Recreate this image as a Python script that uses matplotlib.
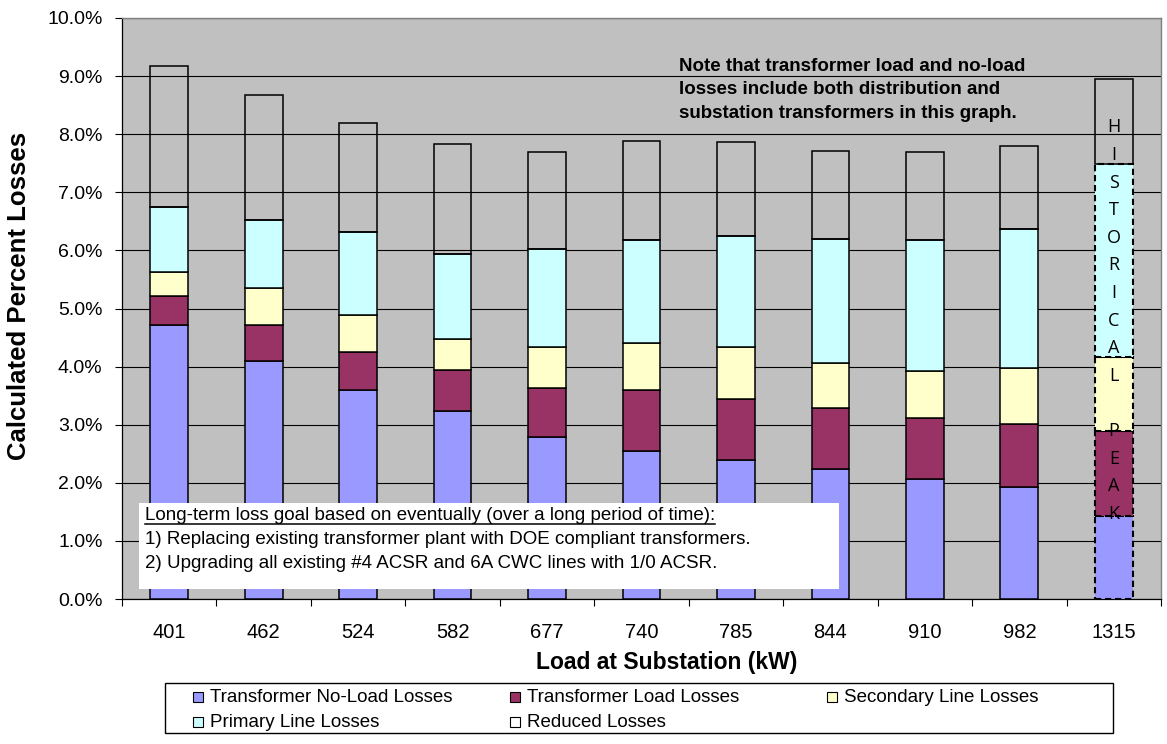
import matplotlib
matplotlib.use("Agg")
import matplotlib.pyplot as plt
import numpy as np
from matplotlib.patches import Rectangle
from matplotlib.lines import Line2D
from matplotlib.transforms import blended_transform_factory

# ---- data (percent losses by substation load) ----
loads_kw = ["401", "462", "524", "582", "677", "740", "785", "844", "910", "982", "1315"]
no_load_losses = [4.71, 4.09, 3.60, 3.24, 2.79, 2.55, 2.40, 2.24, 2.07, 1.92, 1.43]
load_losses = [0.51, 0.63, 0.65, 0.71, 0.84, 1.04, 1.05, 1.05, 1.04, 1.10, 1.47]
secondary_losses = [0.41, 0.63, 0.63, 0.52, 0.71, 0.82, 0.88, 0.77, 0.81, 0.95, 1.27]
primary_losses = [1.12, 1.18, 1.44, 1.47, 1.69, 1.77, 1.92, 2.13, 2.26, 2.40, 3.32]
reduced_losses = [2.42, 2.14, 1.88, 1.89, 1.66, 1.71, 1.62, 1.52, 1.52, 1.42, 1.46]

series_names = ["Transformer No-Load Losses", "Transformer Load Losses",
                "Secondary Line Losses", "Primary Line Losses", "Reduced Losses"]
series_colors = ["#9999FF", "#993366", "#FFFFCC", "#CCFFFF", None]
y_ticks = [0, 1, 2, 3, 4, 5, 6, 7, 8, 9, 10]

note_lines = ["Note that transformer load and no-load",
              "losses include both distribution and",
              "substation transformers in this graph."]
goal_lines = ["Long-term loss goal based on eventually (over a long period of time):",
              "1) Replacing existing transformer plant with DOE compliant transformers.",
              "2) Upgrading all existing #4 ACSR and 6A CWC lines with 1/0 ACSR."]
peak_label = "HISTORICAL PEAK"

# ---- figure ----
W, H = 1167, 744
plt.rcParams["font.family"] = ["Liberation Sans", "DejaVu Sans"]
fig = plt.figure(figsize=(W / 100, H / 100), dpi=100)
fig.patch.set_facecolor("white")


def fx(px):
    return px / W


def fy(py):
    return 1 - py / H


ax = fig.add_axes([fx(122), fy(599), (1161 - 122) / W, (599 - 18) / H])
ax.set_facecolor("#C0C0C0")

x = np.arange(len(loads_kw))
series = [no_load_losses, load_losses, secondary_losses, primary_losses, reduced_losses]
bottom = np.zeros(len(loads_kw))
last = len(loads_kw) - 1
bar_w = 0.4
for vals, name, color in zip(series, series_names, series_colors):
    vals = np.asarray(vals)
    fill = color is not None
    ax.bar(x[:last], vals[:last], bar_w, bottom=bottom[:last],
           color=color if fill else "none", fill=fill,
           edgecolor="black", linewidth=1.1, zorder=3)
    # historical-peak column: dashed outline below the reduced-loss block
    ls = "-" if not fill else (0, (3, 1.8))
    lw = 1.1 if not fill else 1.5
    ax.bar(x[last:], vals[last:], bar_w, bottom=bottom[last:],
           color=color if fill else "none", fill=fill,
           edgecolor="black", linewidth=lw, linestyle=ls, zorder=3)
    bottom = bottom + vals

# ---- axes styling ----
ax.set_xlim(-0.5, len(loads_kw) - 0.5)
ax.set_ylim(0, 10)
ax.set_yticks(y_ticks)
ax.set_yticklabels([f"{v:.1f}%" for v in y_ticks], fontsize=14)
ax.tick_params(axis="y", direction="out", length=5, width=0.8, pad=9, colors="black")
ax.yaxis.grid(True, color="black", linewidth=0.8)
ax.set_axisbelow(True)

ax.set_xticks(x)
ax.set_xticklabels(loads_kw, fontsize=14.5)
ax.tick_params(axis="x", which="major", length=0, pad=17)
ax.set_xticks(np.arange(-0.5, len(loads_kw), 1), minor=True)
ax.tick_params(axis="x", which="minor", direction="out", length=5, width=0.8)

for side in ("left", "bottom"):
    ax.spines[side].set_color("black")
    ax.spines[side].set_linewidth(0.9)
for side in ("top", "right"):
    ax.spines[side].set_color("#808080")
    ax.spines[side].set_linewidth(1.0)

ax.set_xlabel("Load at Substation (kW)", fontsize=16.5, fontweight="bold", va="center")
ax.xaxis.set_label_coords((667 - 122) / 1039, (599 - 663) / 581)
ax.set_ylabel("Calculated Percent Losses", fontsize=18.5, fontweight="bold",
              va="center", ha="center")
ax.yaxis.set_label_coords((19 - 122) / 1039, (599 - 296) / 581)

# ---- note in upper right ----
for line, base in zip(note_lines, [71, 94.3, 117.7]):
    fig.text(fx(679), fy(base), line, fontsize=13.5, fontweight="bold",
             ha="left", va="baseline", zorder=6)

# ---- vertical "HISTORICAL PEAK" label on the last column ----
peak_tr = blended_transform_factory(ax.transData, fig.transFigure)
for i, ch in enumerate(peak_label):
    if ch == " ":
        continue
    ax.text(x[last], fy(132.4 + 27.6 * i), ch, transform=peak_tr,
            family=["Open Sans", "DejaVu Sans"], fontsize=13,
            ha="center", va="baseline", zorder=6)

# ---- long-term goal box ----
fig.add_artist(Rectangle((fx(139), fy(589)), 700 / W, 86 / H,
                         transform=fig.transFigure, facecolor="white",
                         edgecolor="none", zorder=4))
goal_texts = []
for line, base in zip(goal_lines, [520.5, 544.5, 567.5]):
    goal_texts.append(fig.text(fx(145), fy(base), line, fontsize=13.5,
                               ha="left", va="baseline", zorder=6))
fig.canvas.draw()
bb = goal_texts[0].get_window_extent(renderer=fig.canvas.get_renderer())
fig.add_artist(Line2D([bb.x0 / W, bb.x1 / W], [fy(523.5), fy(523.5)],
                      transform=fig.transFigure, color="black", linewidth=1.1, zorder=6))

# ---- legend (row-major, three columns) ----
fig.add_artist(Rectangle((fx(165), fy(733)), (1113 - 165) / W, (733 - 682.7) / H,
                         transform=fig.transFigure, facecolor="white",
                         edgecolor="black", linewidth=1.0, zorder=4))
for k, (name, color) in enumerate(zip(series_names, series_colors)):
    col, row = k % 3, k // 3
    left = 193 + 317 * col
    base = 701.7 + 25 * row
    fig.add_artist(Rectangle((fx(left), fy(base)), 10 / W, 10 / H,
                             transform=fig.transFigure,
                             facecolor=color if color else "white",
                             edgecolor="black", linewidth=0.8, zorder=5))
    fig.text(fx(left + 17), fy(base), name, fontsize=13.5,
             ha="left", va="baseline", zorder=6)

fig.savefig("out.png", dpi=100, facecolor="white")
